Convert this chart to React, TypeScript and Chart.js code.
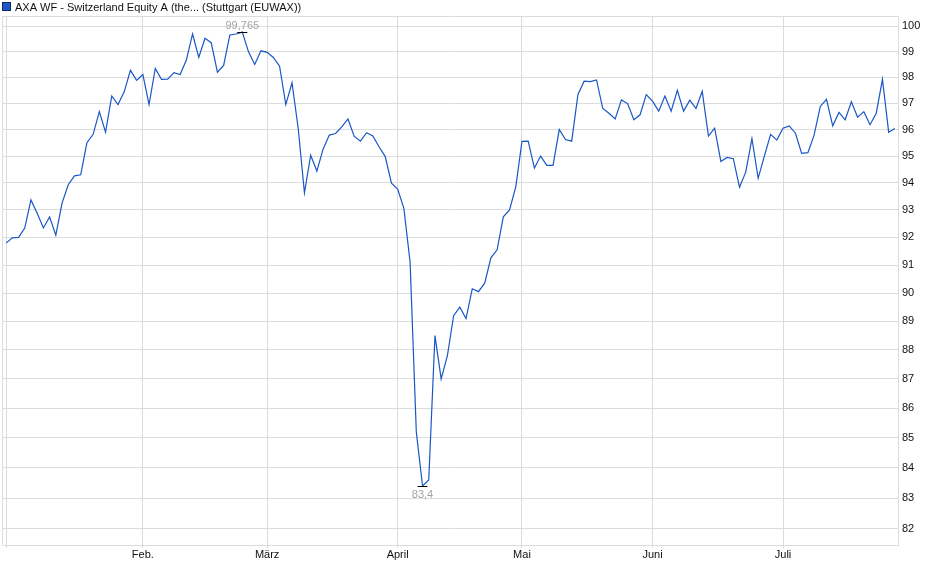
import { useEffect, useRef } from "react";
import { Chart, registerables } from "chart.js";

Chart.register(...registerables);

// trading-day closes, Jan - Jul
const janValues = [91.79, 91.98, 92.0, 92.34, 93.37, 92.88, 92.34, 92.74, 92.08, 93.25, 93.93, 94.26, 94.3, 95.5, 95.82, 96.68, 95.9, 97.28, 96.95, 97.44, 98.27, 97.88];
const febValues = [98.11, 96.95, 98.34, 97.92, 97.93, 98.18, 98.11, 98.67, 99.69, 98.77, 99.52, 99.35, 98.2, 98.46, 99.65, 99.69, 99.765, 98.99, 98.5, 99.03];
const marValues = [98.97, 98.77, 98.43, 96.95, 97.79, 96.04, 93.63, 95.03, 94.44, 95.26, 95.79, 95.85, 96.1, 96.4, 95.75, 95.56, 95.88, 95.76, 95.35, 94.98, 93.99];
const aprValues = [93.77, 93.06, 91.1, 85.2, 83.4, 83.6, 88.5, 87.0, 87.8, 89.2, 89.5, 89.1, 90.15, 90.05, 90.35, 91.26, 91.55, 92.75, 93.0, 93.85];
const mayValues = [95.55, 95.56, 94.55, 95.0, 94.65, 94.65, 96.0, 95.62, 95.56, 97.33, 97.85, 97.83, 97.9, 96.8, 96.62, 96.4, 97.13, 96.99, 96.37, 96.56, 97.33];
const junValues = [97.08, 96.7, 97.28, 96.7, 97.5, 96.7, 97.12, 96.8, 97.46, 95.75, 96.05, 94.8, 94.95, 94.9, 93.84, 94.4, 95.66, 94.17, 95.0, 95.82, 95.6];
const julValues = [96.05, 96.14, 95.86, 95.1, 95.13, 95.79, 96.88, 97.15, 96.14, 96.65, 96.37, 97.06, 96.47, 96.68, 96.18, 96.62, 97.92, 95.9, 96.04];

const monthLabels = ["", "Feb.", "März", "April", "Mai", "Juni", "Juli"];
const monthSeries = [janValues, febValues, marValues, aprValues, mayValues, junValues, julValues];
const yTickValues = [82, 83, 84, 85, 86, 87, 88, 89, 90, 91, 92, 93, 94, 95, 96, 97, 98, 99, 100];
const seriesName = "AXA WF - Switzerland Equity A (the... (Stuttgart (EUWAX))";

const values: number[] = monthSeries.flat();
const labels: string[] = [];
const monthStarts: number[] = [];
monthSeries.forEach((m, mi) => {
  monthStarts.push(labels.length);
  m.forEach((_, d) => labels.push(d === 0 ? monthLabels[mi] : ""));
});

const FONT = '"Liberation Sans", Arial, sans-serif';
const GRID = "#dcdcdc";
const LINE = "#1a56c6";

const framePlugin = {
  id: "frame",
  beforeDatasetsDraw(chart: Chart) {
    const { ctx, chartArea: a } = chart;
    ctx.save();
    ctx.strokeStyle = GRID;
    ctx.lineWidth = 1;
    ctx.beginPath();
    ctx.moveTo(a.left - 0.5, a.bottom);
    ctx.lineTo(a.left - 0.5, a.top + 0.5);
    ctx.lineTo(a.right, a.top + 0.5);
    ctx.stroke();
    ctx.restore();
  },
};

const extremaPlugin = {
  id: "extrema",
  afterDatasetsDraw(chart: Chart) {
    const { ctx } = chart;
    const xs = chart.scales.x;
    const ys = chart.scales.y;
    let hi = 0;
    let lo = 0;
    values.forEach((v, i) => {
      if (v > values[hi]) hi = i;
      if (v < values[lo]) lo = i;
    });
    ctx.save();
    ctx.font = `11px ${FONT}`;
    ctx.textAlign = "center";
    const mark = (i: number, above: boolean) => {
      const px = xs.getPixelForValue(i);
      const py = Math.round(ys.getPixelForValue(values[i])) + 0.5;
      ctx.strokeStyle = "#000";
      ctx.lineWidth = 1;
      ctx.beginPath();
      ctx.moveTo(px - 5, py);
      ctx.lineTo(px + 5, py);
      ctx.stroke();
      ctx.fillStyle = "#a3a3a3";
      const txt = values[i].toLocaleString("de-DE");
      if (above) {
        ctx.textBaseline = "alphabetic";
        ctx.fillText(txt, px, py - 4);
      } else {
        ctx.textBaseline = "top";
        ctx.fillText(txt, px, py + 3);
      }
    };
    mark(hi, true);
    mark(lo, false);
    ctx.restore();
  },
};

const legendPlugin = {
  id: "legendBox",
  afterDraw(chart: Chart) {
    const { ctx } = chart;
    ctx.save();
    ctx.fillStyle = LINE;
    ctx.fillRect(3, 3, 7, 7);
    ctx.strokeStyle = "#0b2a66";
    ctx.lineWidth = 1;
    ctx.strokeRect(2.5, 2.5, 8, 8);
    ctx.fillStyle = "#111";
    ctx.font = `11px ${FONT}`;
    ctx.textBaseline = "alphabetic";
    ctx.textAlign = "left";
    ctx.fillText(seriesName, 15, 10.5);
    ctx.restore();
  },
};

export default function App() {
  const canvasRef = useRef<HTMLCanvasElement>(null);
  const chartRef = useRef<Chart | null>(null);

  useEffect(() => {
    document.body.style.margin = "0";
    if (!canvasRef.current) return;
    chartRef.current?.destroy();

    chartRef.current = new Chart(canvasRef.current, {
      type: "line",
      data: {
        labels,
        datasets: [{
          label: seriesName,
          data: values,
          borderColor: LINE,
          borderWidth: 1.2,
          pointRadius: 0,
          tension: 0,
          fill: false,
        }],
      },
      options: {
        responsive: true,
        maintainAspectRatio: false,
        animation: false,
        layout: { padding: { left: 3, top: 16, right: 0, bottom: 0 } },
        font: { family: FONT, size: 11 },
        scales: {
          x: {
            type: "category",
            offset: true,
            grid: { offset: false, color: GRID, tickLength: 3, tickColor: GRID },
            border: { color: GRID },
            ticks: {
              autoSkip: false,
              maxRotation: 0,
              padding: 0,
              color: "#111",
              font: { family: FONT, size: 11 },
            },
            afterBuildTicks: (scale: any) => {
              scale.ticks = monthStarts.map((v) => ({ value: v }));
            },
            afterFit: (scale: any) => {
              scale.height = 34;
            },
          },
          y: {
            type: "logarithmic",
            position: "right",
            min: 81.48,
            max: 100.4,
            bounds: "data",
            grid: { color: GRID, drawTicks: false },
            border: { color: GRID },
            ticks: {
              padding: 4,
              color: "#111",
              font: { family: FONT, size: 11 },
              callback: (v: any) => String(v),
            },
            afterBuildTicks: (scale: any) => {
              scale.ticks = yTickValues.map((v) => ({ value: v }));
            },
            afterFit: (scale: any) => {
              scale.width = 42;
            },
          },
        },
        plugins: {
          legend: { display: false },
          tooltip: { enabled: false },
        },
      },
      plugins: [framePlugin, extremaPlugin, legendPlugin],
    });

    return () => { chartRef.current?.destroy(); };
  }, []);

  return (
    <div style={{ width: "940px", height: "579px", position: "relative" }}>
      <canvas ref={canvasRef} />
    </div>
  );
}
